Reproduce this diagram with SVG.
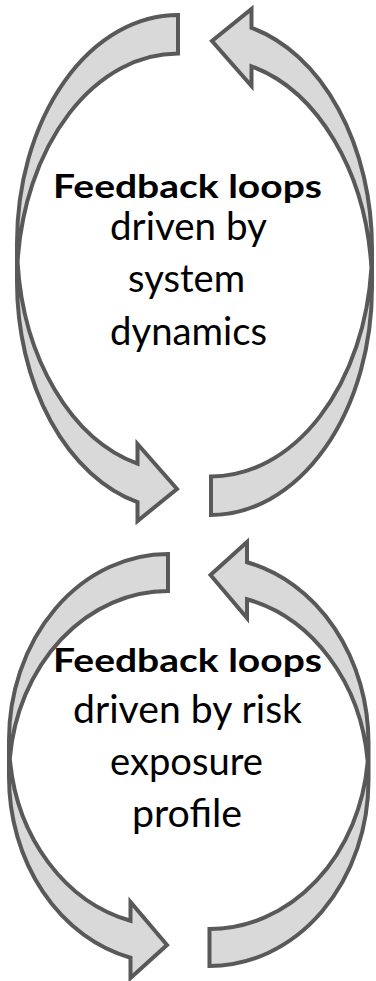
<svg xmlns="http://www.w3.org/2000/svg" xmlns:xlink="http://www.w3.org/1999/xlink" width="376" height="981" viewBox="0 0 376 981">
  <style>
    .arrow { fill: #d9d9d9; stroke: #595959; stroke-width: 4; stroke-linejoin: miter; stroke-miterlimit: 10; }
    .label { font-family: Lato, "Open Sans", "Liberation Sans", sans-serif; fill: #000000; }
    .title { font-weight: 700; font-size: 32px; }
    .body { font-weight: 400; font-size: 39px; }
  </style>
  <defs>
    <!-- curved right arrow, upper loop: two equal ellipses offset vertically by the shaft thickness -->
    <path id="curved-arrow-a" class="arrow"
      d="M178,15 A161,228 0 0 0 17,243 L17,281.5 A161,228 0 0 0 137.5,502.2 L137.5,521 L177,489 L137.5,444 L137.5,463.7 A161,228 0 0 1 17.57,262.25 A161,228 0 0 1 178,53.5 Z"/>
    <!-- curved right arrow, lower loop -->
    <path id="curved-arrow-b" class="arrow"
      d="M168,554 A159,186 0 0 0 9,740 L9,777 A159,186 0 0 0 130.5,957.75 L130.5,978 L167,945 L130.5,902 L130.5,920.75 A159,186 0 0 1 9.79,758.5 A159,186 0 0 1 168,591 Z"/>
  </defs>

  <g id="connectors">
    <use id="loop1-left" xlink:href="#curved-arrow-a"/>
    <use id="loop1-right" xlink:href="#curved-arrow-a" transform="rotate(180 194.5 265)"/>
    <use id="loop2-left" xlink:href="#curved-arrow-b"/>
    <use id="loop2-right" xlink:href="#curved-arrow-b" transform="rotate(180 188.75 760)"/>
  </g>

  <g id="node-system-dynamics" class="label">
    <text class="title" x="53" y="198" textLength="269" lengthAdjust="spacingAndGlyphs">Feedback loops</text>
    <text class="body" x="110" y="240" textLength="157" lengthAdjust="spacingAndGlyphs">driven by</text>
    <text class="body" x="128" y="292" textLength="117" lengthAdjust="spacingAndGlyphs">system</text>
    <text class="body" x="110" y="345" textLength="157" lengthAdjust="spacingAndGlyphs">dynamics</text>
  </g>

  <g id="node-risk-exposure" class="label">
    <text class="title" x="53" y="672" textLength="269" lengthAdjust="spacingAndGlyphs">Feedback loops</text>
    <text class="body" x="73" y="723" textLength="229" lengthAdjust="spacingAndGlyphs">driven by risk</text>
    <text class="body" x="110" y="775" textLength="153" lengthAdjust="spacingAndGlyphs">exposure</text>
    <text class="body" x="132" y="827" textLength="110" lengthAdjust="spacingAndGlyphs">profile</text>
  </g>
</svg>
